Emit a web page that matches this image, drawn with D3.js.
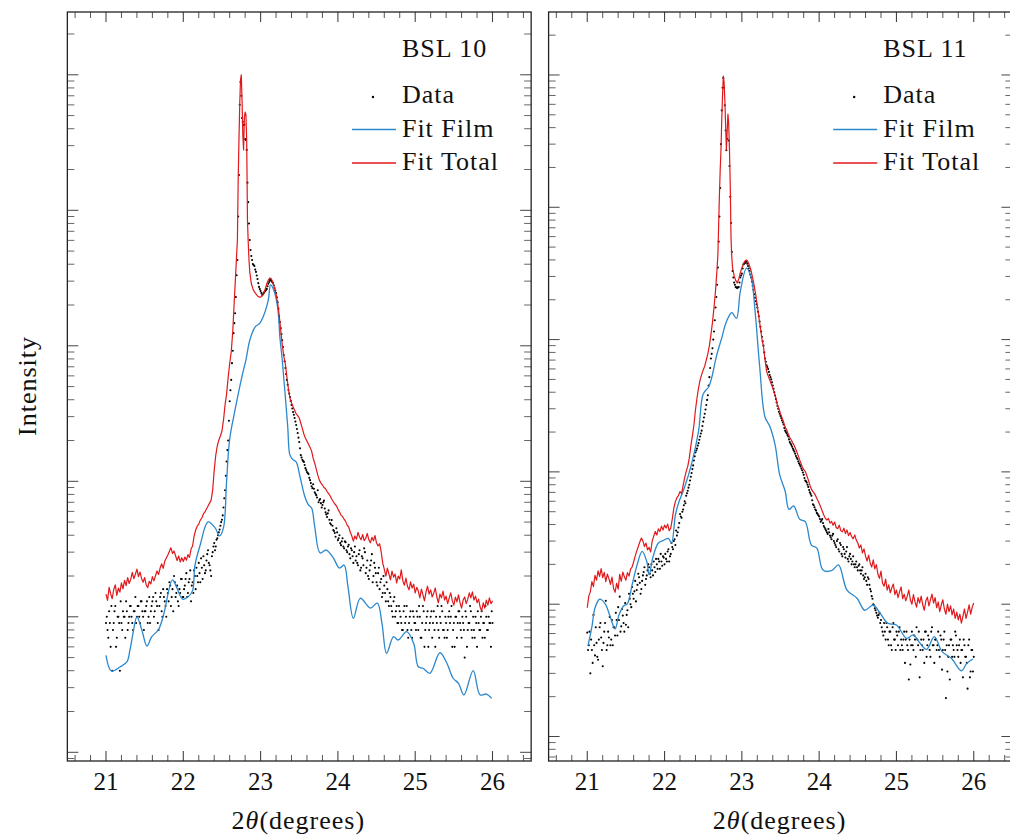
<!DOCTYPE html>
<html>
<head>
<meta charset="utf-8">
<script src="https://cdn.jsdelivr.net/npm/d3@7"></script>
<style>
  body { margin: 0; background: #fff; }
  text { font-family: "Liberation Serif", "DejaVu Serif", serif; fill: #111; }
</style>
</head>
<body>
<div id="chart"></div>
<script>
// measured scans are sampled every 0.01 deg from 21.00 to 26.00
var scanStart = 21.0, scanStep = 0.01;

// BSL 10 : measured intensity (one row = 0.2 deg)
var bsl10Data = [
  9, 10, 8, 7, 11, 9, 6, 12, 4, 8, 9, 11, 12, 6, 7, 10, 10, 9, 4, 13,
  9, 8, 11, 10, 10, 7, 13, 11, 8, 9, 10, 12, 12, 10, 9, 8, 11, 11, 14, 9,
  10, 12, 12, 10, 9, 13, 13, 11, 10, 8, 11, 11, 12, 13, 9, 10, 14, 9, 11, 12,
  13, 14, 10, 11, 15, 13, 12, 9, 8, 12, 14, 15, 11, 10, 16, 14, 13, 12, 10, 16,
  15, 13, 18, 17, 12, 14, 16, 11, 20, 18, 14, 15, 17, 13, 12, 16, 15, 19, 19, 14,
  14, 16, 17, 19, 21, 14, 15, 18, 19, 22, 13, 17, 18, 15, 22, 20, 16, 23, 20, 18,
  25, 21, 18, 27, 23, 19, 28, 24, 21, 22, 26, 29, 31, 25, 24, 22, 20, 28, 30, 33,
  35, 31, 33, 37, 38, 40, 42, 44, 47, 50, 52, 56, 64, 75, 86, 110, 140, 170, 200, 280,
  390, 470, 560, 745, 920, 1240, 1470, 1740, 2290, 3320, 4300, 9000, 18200, 60000, 88500, 70000, 48000, 45000, 42600, 43000,
  33600, 33000, 27900, 16000, 11500, 8000, 6040, 5100, 4600, 4300, 4020, 3950, 3880, 3650, 3510, 3300, 3110, 2900, 2720, 2620,
  2540, 2450, 2370, 2400, 2450, 2500, 2540, 2580, 2630, 2750, 2870, 2960, 3060, 3050, 3010, 2960, 2910, 2800, 2670, 2560,
  2450, 2280, 2100, 1880, 1660, 1500, 1350, 1220, 1100, 980, 855, 770, 685, 620, 560, 515, 472, 445, 419, 392,
  366, 345, 325, 310, 293, 276, 260, 243, 227, 210, 195, 175, 156, 150, 144, 141, 139, 132, 125, 121,
  117, 115, 113, 106, 102, 97, 92, 89, 95, 88, 83, 81, 79, 76, 86, 70, 72.6, 74, 69, 64,
  66.8, 70, 72, 63, 59, 57, 54.5, 58, 61, 52, 49, 48, 51.7, 47, 43.7, 43, 41.5, 39, 45, 42,
  36.8, 38, 40, 35, 33.8, 36, 38, 33, 32, 36, 35.5, 31, 30, 33, 34, 29, 27, 32, 31, 28,
  25, 30, 33, 26, 28, 25, 24, 29, 31, 22, 23, 28, 27, 24, 32, 30, 21, 23, 26, 20,
  19, 22, 24, 26, 29, 18, 20, 25, 23, 21, 18, 17, 21, 23, 16, 18, 19, 14, 15, 20,
  17, 15, 13, 18, 16, 13, 12, 15, 14, 12, 11, 10, 13, 14, 10, 11, 12, 9, 9, 12,
  11, 10, 9, 8, 8, 11, 12, 9, 10, 12, 8, 7, 9, 10, 11, 8, 7, 11, 10, 9,
  9, 8, 11, 10, 8, 12, 10, 7, 7, 9, 12, 11, 6, 8, 9, 10, 11, 6, 8, 9,
  10, 11, 7, 9, 11, 8, 6, 10, 9, 12, 8, 7, 10, 9, 12, 11, 8, 8, 7, 10,
  9, 7, 8, 10, 11, 9, 10, 12, 6, 8, 9, 6, 10, 10, 7, 9, 11, 11, 9, 8,
  7, 10, 9, 8, 5, 11, 10, 6, 8, 9, 9, 12, 11, 8, 7, 10, 8, 7, 10, 9,
  6, 11, 9, 8, 8, 10, 11, 7, 9, 9, 7, 12, 10, 8, 8, 10, 9, 9, 6, 11,
  9
];

// BSL 10 : fitted film contribution [2theta, intensity]
var bsl10Film = [
  [21.00, 5.2], [21.07, 3.98], [21.18, 4.26], [21.27, 4.64], [21.31, 5.69], [21.35, 7.59],
  [21.40, 10.0], [21.46, 8.13], [21.53, 6.09], [21.59, 7.10], [21.68, 8.06], [21.74, 10.1],
  [21.86, 18.7], [21.91, 16.7], [21.99, 13.5], [22.06, 14.0], [22.12, 15.6], [22.15, 23.9],
  [22.22, 34.2], [22.32, 50.1], [22.41, 45.5], [22.47, 39.5], [22.52, 45.5], [22.56, 100],
  [22.60, 205], [22.67, 338], [22.76, 598], [22.81, 785], [22.86, 1100], [22.93, 1380],
  [22.99, 1470], [23.06, 1800], [23.10, 2180], [23.13, 2820], [23.17, 2580], [23.22, 1930],
  [23.25, 1150], [23.28, 785], [23.35, 257], [23.38, 156], [23.42, 144], [23.46, 139],
  [23.51, 108], [23.57, 78], [23.62, 66.9], [23.66, 63.5], [23.70, 46.2], [23.77, 29.6],
  [23.85, 31.1], [23.94, 27.2], [24.02, 22.9], [24.08, 24.1], [24.13, 16.7], [24.20, 9.75],
  [24.29, 13.7], [24.42, 11.6], [24.51, 12.6], [24.57, 8.95], [24.63, 5.38], [24.72, 7.13],
  [24.78, 6.74], [24.89, 7.76], [24.98, 6.37], [25.04, 4.28], [25.10, 4.17], [25.19, 3.83],
  [25.32, 5.43], [25.41, 4.54], [25.49, 3.52], [25.56, 3.23], [25.63, 2.65], [25.75, 4.0],
  [25.84, 2.65], [25.92, 2.69], [25.99, 2.50]
];

// BSL 10 : total fit [2theta, intensity]
var bsl10Total = [
  [21.00, 14.7], [21.02, 13.2], [21.04, 16.5], [21.06, 14.8], [21.08, 13.6], [21.10, 15.9], [21.12, 17.2], [21.14, 14.4], [21.16, 16.3], [21.18, 15.2],
  [21.20, 17.8], [21.22, 16.1], [21.24, 18.6], [21.26, 17], [21.28, 19.5], [21.30, 17.6], [21.32, 18.9], [21.34, 21.3], [21.36, 19.1], [21.38, 20.6],
  [21.40, 22.5], [21.42, 19.8], [21.44, 21.4], [21.46, 19.2], [21.48, 18], [21.50, 19.5], [21.52, 17.2], [21.54, 16.4], [21.56, 18.3], [21.58, 17.5],
  [21.60, 19.8], [21.62, 18.4], [21.64, 20.1], [21.66, 21.8], [21.68, 20.5], [21.70, 22.9], [21.72, 24.6], [21.74, 22.8], [21.76, 25.7], [21.78, 27.2],
  [21.80, 28.6], [21.82, 30.5], [21.84, 32.3], [21.86, 29.4], [21.88, 30.6], [21.90, 28.2], [21.92, 26], [21.94, 28.1], [21.96, 25.4], [21.98, 27.3],
  [22.00, 25.6], [22.02, 27.6], [22.04, 26.2], [22.06, 28.8], [22.08, 27.4], [22.10, 31.6], [22.12, 33.3], [22.14, 39.5], [22.16, 43.7], [22.18, 46.6],
  [22.20, 48.3], [22.22, 51.7], [22.24, 53.6], [22.26, 57.4], [22.28, 59.5], [22.30, 62.5], [22.32, 65.7], [22.34, 69], [22.36, 72.6], [22.38, 86],
  [22.40, 121], [22.42, 156], [22.44, 183], [22.46, 202], [22.48, 216], [22.50, 235], [22.52, 283], [22.54, 366], [22.56, 440], [22.58, 580],
  [22.60, 740], [22.62, 900], [22.64, 1280], [22.66, 2180], [22.68, 3620], [22.70, 6040], [22.71, 16700], [22.72, 33000], [22.73, 60000], [22.74, 91800],
  [22.75, 100000], [22.76, 65200], [22.77, 36000], [22.78, 27900], [22.79, 48000], [22.80, 53000], [22.81, 51000], [22.82, 33000], [22.83, 8470], [22.84, 5800],
  [22.85, 4300], [22.86, 3500], [22.88, 2870], [22.90, 2640], [22.92, 2500], [22.94, 2420], [22.96, 2330], [22.98, 2290], [23.00, 2290], [23.02, 2330],
  [23.04, 2420], [23.06, 2630], [23.08, 2870], [23.10, 3060], [23.12, 3170], [23.14, 3120], [23.16, 2910], [23.18, 2670], [23.20, 2420], [23.22, 2080],
  [23.24, 1690], [23.26, 1310], [23.28, 1020], [23.30, 840], [23.32, 735], [23.34, 590], [23.36, 480], [23.38, 410], [23.40, 378], [23.42, 355],
  [23.44, 335], [23.46, 315], [23.48, 305], [23.50, 293], [23.52, 268], [23.54, 246], [23.56, 223], [23.58, 208], [23.60, 198], [23.62, 188],
  [23.64, 178], [23.66, 167], [23.68, 148], [23.70, 136], [23.72, 123], [23.74, 111], [23.76, 102], [23.78, 97], [23.80, 94], [23.82, 90],
  [23.84, 88], [23.86, 84], [23.88, 81], [23.90, 78], [23.92, 74], [23.94, 71], [23.96, 68], [23.98, 66], [24.00, 62.5], [24.02, 59.5],
  [24.04, 56.3], [24.06, 55], [24.08, 52.5], [24.10, 50.6], [24.12, 47.5], [24.14, 46], [24.16, 42.2], [24.18, 39.5], [24.20, 36.2], [24.22, 39.5],
  [24.24, 37.4], [24.26, 42], [24.28, 38.8], [24.30, 37], [24.32, 40.5], [24.34, 36.5], [24.36, 38], [24.38, 41.2], [24.40, 37], [24.42, 35.2],
  [24.44, 38.6], [24.46, 36.4], [24.48, 39.8], [24.50, 35], [24.52, 33.4], [24.54, 34.6], [24.56, 30.1], [24.58, 24.9], [24.60, 22.5], [24.62, 20.0],
  [24.64, 22.9], [24.66, 20.7], [24.68, 18.7], [24.70, 21.7], [24.72, 19.6], [24.74, 20.7], [24.76, 17.8], [24.78, 20.0], [24.80, 19.0], [24.82, 22.2],
  [24.84, 18.4], [24.86, 17.1], [24.88, 19.3], [24.90, 16.8], [24.92, 15.8], [24.94, 18.1], [24.96, 16.3], [24.98, 17.4], [25.00, 15.0], [25.02, 16.5],
  [25.04, 15.5], [25.06, 13.8], [25.08, 16.0], [25.10, 14.5], [25.12, 13.1], [25.14, 15.3], [25.16, 16.8], [25.18, 14.7], [25.20, 15.8], [25.22, 14.0],
  [25.24, 15.0], [25.26, 16.3], [25.28, 14.0], [25.30, 12.7], [25.32, 14.7], [25.34, 13.8], [25.36, 15.5], [25.38, 13.3], [25.40, 14.2], [25.42, 12.5],
  [25.44, 13.8], [25.46, 15.0], [25.48, 13.1], [25.50, 12.2], [25.52, 14.0], [25.54, 12.9], [25.56, 14.5], [25.58, 12.7], [25.60, 11.6], [25.62, 13.3],
  [25.64, 14.0], [25.66, 12.5], [25.68, 13.5], [25.70, 15.0], [25.72, 13.8], [25.74, 15.3], [25.76, 13.3], [25.78, 14.2], [25.80, 12.7], [25.82, 13.5],
  [25.84, 11.8], [25.86, 11.0], [25.88, 12.7], [25.90, 11.6], [25.92, 13.3], [25.94, 12.2], [25.96, 13.8], [25.98, 12.5], [26.00, 13.1]
];

// BSL 11 : measured intensity (one row = 0.2 deg)
var bsl11Data = [
  6.1, 4.5, 4.9, 6.2, 3.0, 5.4, 4.5, 3.6, 8.3, 4.9, 4.1, 6.7, 5.1, 4.0, 3.8, 5.4, 6.7, 7.2, 5.6, 4.5,
  3.4, 5.1, 6.2, 7.2, 10.6, 4.5, 4.9, 6.2, 5.6, 8.0, 4.9, 5.4, 7.6, 4.9, 6.7, 6.7, 5.8, 8.6, 7.6, 5.8,
  9.5, 7.6, 11.4, 6.2, 6.8, 9.2, 8.2, 7.2, 6.2, 10.2, 7.0, 8.3, 9.0, 6.7, 12, 11, 10, 9.5, 13.5, 12,
  11, 12.5, 15, 10.5, 12.8, 14, 17, 16, 14.5, 12, 13, 15, 16.5, 17.5, 19, 14, 15.5, 16.5, 18, 20,
  19, 17, 16, 20, 18, 16.5, 21, 19, 17.5, 22, 20, 18.5, 22, 21, 18.5, 24, 21, 19.5, 23, 22.5,
  20, 24, 22, 21, 25, 26, 21, 23, 24, 29, 27, 26, 30, 31, 28, 36, 33, 35, 38, 41,
  48, 46, 45, 50, 52, 56, 60, 58, 66, 69, 72, 76, 80, 86, 92, 98, 105, 112, 122, 131,
  140, 145, 150, 158, 165, 175, 185, 195, 205, 222, 240, 258, 275, 296, 320, 350, 380, 450, 520, 610,
  720, 780, 860, 1000, 1150, 1400, 1750, 2100, 2600, 3500, 5500, 8500, 14000, 30000, 54000, 80000, 95000, 80000, 59000, 38000,
  27000, 33000, 44000, 32000, 20500, 12000, 7600, 4600, 3300, 2950, 2700, 2600, 2500, 2480, 2450, 2480, 2500, 2700, 2950, 3050,
  3150, 3450, 3700, 3750, 3800, 3850, 3900, 3750, 3600, 3450, 3300, 3100, 2950, 2750, 2550, 2380, 2200, 2070, 1950, 1850,
  1750, 1620, 1500, 1370, 1250, 1150, 1050, 970, 900, 800, 720, 680, 640, 620, 600, 570, 540, 520, 500, 475,
  450, 425, 400, 378, 355, 335, 315, 300, 285, 275, 265, 255, 245, 236, 228, 215, 205, 200, 196, 190,
  185, 176, 168, 164, 160, 155, 150, 146, 142, 137, 132, 128, 125, 120, 116, 113, 110, 106, 103, 99,
  95, 90, 86, 85, 83, 80, 77, 73, 70, 68, 66, 61, 57, 56, 54, 52, 51, 49, 48, 47,
  46, 44, 42, 43, 44, 41, 39, 38, 37, 36, 35, 34, 37, 35, 33, 32, 31, 33, 34, 30,
  29, 28, 27, 30, 31, 26, 25, 29, 28, 24, 23, 27, 26, 24, 22.5, 25, 27, 22, 21, 23,
  24, 22, 20, 21, 23, 20, 19, 20, 21, 19, 18, 19.5, 20, 18, 17, 18, 19, 16.5, 15.5, 16,
  17, 15, 14, 16, 15.5, 14, 13, 12.5, 11.5, 11, 10, 9.8, 9.3, 9.0, 8.6, 8.2, 7.9, 8.3, 8.6, 7.2,
  7.6, 6.7, 6.2, 5.8, 7.2, 6.2, 5.4, 7.2, 6.7, 5.4, 4.9, 6.2, 6.2, 4.9, 4.5, 6.7, 7.2, 5.4, 5.4, 4.5,
  6.2, 5.8, 4.9, 6.2, 6.7, 4.5, 5.4, 4.9, 4.5, 5.4, 6.2, 3.6, 5.4, 6.2, 4.9, 4.5, 2.7, 5.4, 3.5, 4.9,
  6.2, 4.9, 4.5, 5.8, 5.4, 4.0, 6.7, 5.4, 4.9, 6.2, 2.8, 4.5, 5.4, 4.9, 4.5, 5.4, 3.6, 6.2, 6.2, 4.0,
  4.9, 5.8, 5.4, 4.5, 4.0, 6.2, 6.7, 4.9, 4.9, 3.6, 5.4, 5.4, 4.5, 4.9, 6.2, 4.5, 4.0, 5.8, 5.4, 3.2,
  4.5, 5.4, 6.2, 4.5, 1.95, 4.9, 3.1, 4.0, 4.9, 2.7, 5.4, 5.4, 4.0, 4.9, 4.5, 4.0, 6.2, 5.8, 4.9, 4.5,
  4.0, 4.9, 5.4, 3.6, 4.5, 4.5, 2.8, 5.4, 4.9, 4.0, 4.0, 3.6, 2.3, 4.9, 5.4, 2.8, 3.1, 4.5, 4.5, 3.1,
  4.0
];

// BSL 11 : fitted film contribution
var bsl11Film = [
  [21.01, 4.87], [21.06, 6.73], [21.10, 9.36], [21.16, 10.9], [21.23, 10.1], [21.29, 8.28],
  [21.36, 6.5], [21.41, 8.28], [21.47, 9.69], [21.52, 10.1], [21.58, 14.0], [21.64, 19.3],
  [21.71, 25.1], [21.77, 21], [21.80, 16.7], [21.85, 22.7], [21.92, 29], [21.98, 30.2],
  [22.05, 31.4], [22.09, 29], [22.14, 47.2], [22.18, 57.8], [22.26, 76.9], [22.35, 115],
  [22.44, 203], [22.50, 388], [22.57, 438], [22.61, 515], [22.67, 743], [22.74, 1030],
  [22.80, 1365], [22.87, 1600], [22.93, 1445], [22.98, 2310], [23.06, 3470], [23.12, 2950],
  [23.17, 1670], [23.23, 631], [23.30, 259], [23.36, 222], [23.43, 160], [23.49, 94.8],
  [23.56, 71.7], [23.61, 52.1], [23.67, 55.3], [23.75, 43.8], [23.82, 42.1], [23.90, 28],
  [23.97, 26.5], [24.05, 18.1], [24.16, 17.9], [24.25, 19.8], [24.36, 12.8], [24.49, 11.1],
  [24.59, 9.0], [24.70, 9.86], [24.79, 8.53], [24.89, 7.17], [25.00, 6.96], [25.13, 5.52],
  [25.22, 5.85], [25.29, 5.21], [25.39, 4.56], [25.49, 5.68], [25.59, 4.38], [25.71, 3.9],
  [25.84, 3.14], [25.91, 3.57], [25.99, 3.85]
];

// BSL 11 : total fit
var bsl11Total = [
  [21.00, 9.4], [21.02, 11.5], [21.04, 12.4], [21.06, 14.8], [21.08, 13.6], [21.10, 16.5], [21.12, 15.2], [21.14, 17.9], [21.16, 16.2], [21.18, 18.6],
  [21.20, 15.9], [21.22, 17.4], [21.24, 14.8], [21.26, 16.9], [21.28, 15.6], [21.30, 14.1], [21.32, 16], [21.34, 13.2], [21.36, 12.3], [21.38, 14.4],
  [21.40, 13], [21.42, 16.8], [21.44, 14.9], [21.46, 17.5], [21.48, 16.1], [21.50, 15.2], [21.52, 17.3], [21.54, 16.3], [21.56, 18.4], [21.58, 19.1],
  [21.60, 20.9], [21.62, 23.1], [21.64, 25.2], [21.66, 27.3], [21.68, 29.5], [21.70, 31.6], [21.72, 30], [21.74, 27.3], [21.76, 29], [21.78, 25.7],
  [21.80, 26.9], [21.82, 24.8], [21.84, 30], [21.86, 32.7], [21.88, 35.4], [21.90, 33.3], [21.92, 37.1], [21.94, 35.4], [21.96, 38.9], [21.98, 36.4],
  [22.00, 39.6], [22.02, 37.6], [22.04, 40.3], [22.06, 35.9], [22.08, 37.6], [22.10, 44], [22.12, 53.3], [22.14, 59.6], [22.16, 63.8], [22.18, 66.2],
  [22.20, 71], [22.22, 68.5], [22.24, 78.6], [22.26, 90], [22.28, 101], [22.30, 110], [22.32, 127], [22.34, 157], [22.36, 187], [22.38, 226],
  [22.40, 295], [22.42, 362], [22.44, 432], [22.46, 496], [22.48, 543], [22.50, 590], [22.52, 630], [22.54, 703], [22.56, 780], [22.58, 900],
  [22.60, 1090], [22.62, 1350], [22.64, 1750], [22.66, 2370], [22.68, 3480], [22.69, 4360], [22.70, 7380], [22.71, 12500], [22.72, 19200], [22.73, 27100],
  [22.74, 45700], [22.75, 69300], [22.76, 98000], [22.77, 88500], [22.78, 64700], [22.79, 41500], [22.80, 27100], [22.81, 37200], [22.82, 50600], [22.83, 42600],
  [22.84, 27100], [22.85, 14700], [22.86, 5840], [22.87, 4180], [22.88, 3480], [22.90, 3040], [22.92, 2800], [22.94, 2680], [22.96, 2870], [22.98, 3190],
  [23.00, 3480], [23.02, 3720], [23.04, 3920], [23.06, 4000], [23.08, 3860], [23.10, 3600], [23.12, 3300], [23.14, 2920], [23.16, 2550], [23.18, 2170],
  [23.20, 1800], [23.22, 1480], [23.24, 1220], [23.26, 1010], [23.28, 880], [23.30, 703], [23.32, 578], [23.34, 532], [23.36, 496], [23.38, 462],
  [23.40, 432], [23.42, 396], [23.44, 362], [23.46, 320], [23.48, 300], [23.50, 275], [23.52, 256], [23.54, 238], [23.56, 218], [23.58, 208],
  [23.60, 193], [23.62, 182], [23.64, 174], [23.66, 165], [23.68, 157], [23.70, 147], [23.72, 137], [23.74, 127], [23.76, 118], [23.78, 110],
  [23.80, 104], [23.82, 101], [23.84, 94], [23.86, 87], [23.88, 79.4], [23.90, 74], [23.92, 71], [23.94, 68.5], [23.96, 65], [23.98, 61.3],
  [24.00, 58], [24.02, 54.2], [24.04, 50.6], [24.06, 47.2], [24.08, 44.6], [24.10, 43.3], [24.12, 44.5], [24.14, 41], [24.16, 42.2], [24.18, 39.5],
  [24.20, 41.8], [24.22, 38], [24.24, 37.2], [24.26, 39.6], [24.28, 36], [24.30, 35.2], [24.32, 37.5], [24.34, 34.2], [24.36, 36.4], [24.38, 33],
  [24.40, 34.8], [24.42, 32.5], [24.44, 31.2], [24.46, 33.4], [24.48, 30.5], [24.50, 29.0], [24.52, 26.6], [24.54, 28.0], [24.56, 24.4], [24.58, 26.2],
  [24.60, 23.1], [24.62, 21.2], [24.64, 23.5], [24.66, 20.5], [24.68, 19.1], [24.70, 21.6], [24.72, 18.5], [24.74, 19.9], [24.76, 16.9], [24.78, 15.7],
  [24.80, 17.8], [24.82, 14.4], [24.84, 13.7], [24.86, 15.5], [24.88, 12.8], [24.90, 14.0], [24.92, 12.2], [24.94, 13.3], [24.96, 14.2], [24.98, 11.8],
  [25.00, 12.8], [25.02, 11.2], [25.04, 12.4], [25.06, 13.5], [25.08, 11.0], [25.10, 11.9], [25.12, 10.6], [25.14, 11.5], [25.16, 12.8], [25.18, 10.8],
  [25.20, 10.0], [25.22, 11.8], [25.24, 10.4], [25.26, 9.5], [25.28, 11.2], [25.30, 10.2], [25.32, 11.5], [25.34, 9.9], [25.36, 9.0], [25.38, 10.6],
  [25.40, 11.3], [25.42, 9.7], [25.44, 10.8], [25.46, 11.9], [25.48, 10.2], [25.50, 11.2], [25.52, 9.4], [25.54, 10.4], [25.56, 8.8], [25.58, 9.9],
  [25.60, 10.8], [25.62, 9.2], [25.64, 8.4], [25.66, 10.0], [25.68, 8.8], [25.70, 9.7], [25.72, 8.3], [25.74, 9.2], [25.76, 7.8], [25.78, 8.7],
  [25.80, 7.6], [25.82, 8.4], [25.84, 7.2], [25.86, 8.1], [25.88, 9.2], [25.90, 7.8], [25.92, 8.7], [25.94, 9.9], [25.96, 8.4], [25.98, 9.5], [26.00, 10.2]
];

var xTickLabels = [21, 22, 23, 24, 25, 26];
var legendLabels = ["Data", "Fit Film", "Fit Total"];
var panelTitles = ["BSL 10", "BSL 11"];

var filmColor = "#2b88cc", totalColor = "#e0191c";

var svg = d3.select("#chart")
  .append("svg")
  .attr("width", 1010)
  .attr("height", 839);

function drawPanel(p) {
  var top = 12, bottom = 761;

  var x = d3.scaleLinear().domain([20.5, 26.5]).range([p.left, p.left + 463.8]);
  var y = d3.scaleLog().domain(p.yDomain).range([bottom, top]);

  var g = svg.append("g");

  // ticks on all four sides, pointing inwards
  var minorX = d3.range(103, 133).map(function(i) { return i / 5; })
    .filter(function(v) { return v > 20.5 && v < 26.5 && Math.abs(v - Math.round(v)) > 1e-6; });
  minorX.forEach(function(v) {
    g.append("line").attr("x1", x(v)).attr("x2", x(v)).attr("y1", bottom).attr("y2", bottom - 6)
      .attr("stroke", "#555").attr("stroke-width", 1);
    g.append("line").attr("x1", x(v)).attr("x2", x(v)).attr("y1", top).attr("y2", top + 6)
      .attr("stroke", "#555").attr("stroke-width", 1);
  });
  xTickLabels.forEach(function(v) {
    g.append("line").attr("x1", x(v)).attr("x2", x(v)).attr("y1", bottom).attr("y2", bottom - 10)
      .attr("stroke", "#444").attr("stroke-width", 1.1);
    g.append("line").attr("x1", x(v)).attr("x2", x(v)).attr("y1", top).attr("y2", top + 10)
      .attr("stroke", "#444").attr("stroke-width", 1.1);
    g.append("text").attr("x", x(v)).attr("y", 790).attr("text-anchor", "middle")
      .style("font-size", "25px").text(v);
  });

  // log ticks, no labels
  var dom = y.domain();
  var x0 = x.range()[0], x1 = x.range()[1];
  for (var k = -1; k <= 6; k++) {
    for (var m = 1; m <= 9; m++) {
      var v = m * Math.pow(10, k);
      if (v < dom[0] || v > dom[1]) continue;
      var len = (m == 1) ? 11 : 7;
      g.append("line").attr("x1", x0).attr("x2", x0 + len).attr("y1", y(v)).attr("y2", y(v))
        .attr("stroke", m == 1 ? "#444" : "#666").attr("stroke-width", 1);
      g.append("line").attr("x1", x1).attr("x2", x1 - len).attr("y1", y(v)).attr("y2", y(v))
        .attr("stroke", m == 1 ? "#444" : "#666").attr("stroke-width", 1);
    }
  }

  // frame
  g.append("rect")
    .attr("x", x0).attr("y", top)
    .attr("width", x1 - x0).attr("height", bottom - top)
    .attr("fill", "none").attr("stroke", "#222").attr("stroke-width", 1.3);

  var lineFilm = d3.line().curve(d3.curveCatmullRom.alpha(0.5))
    .x(function(d) { return x(d[0]); })
    .y(function(d) { return y(d[1]); });
  var lineTotal = d3.line()
    .x(function(d) { return x(d[0]); })
    .y(function(d) { return y(d[1]); });

  // data points
  g.selectAll(".dot")
    .data(p.data)
    .enter().append("circle")
      .attr("cx", function(d, i) { return x(scanStart + i * scanStep); })
      .attr("cy", function(d) { return y(d); })
      .attr("r", 1.05)
      .attr("fill", "#000");

  g.append("path").datum(p.film)
    .attr("fill", "none").attr("stroke", filmColor).attr("stroke-width", 1.3)
    .attr("d", lineFilm);
  g.append("path").datum(p.total)
    .attr("fill", "none").attr("stroke", totalColor).attr("stroke-width", 1.2)
    .attr("stroke-linejoin", "round")
    .attr("d", lineTotal);

  // handmade legend
  var lx = p.left;
  var bigText = function(sel) { return sel.style("font-size", "26px").style("letter-spacing", "1px"); };
  bigText(g.append("text").attr("x", lx + 334.6).attr("y", 57).text(p.title));
  g.append("circle").attr("cx", lx + 305.6).attr("cy", 97).attr("r", 1.2).attr("fill", "#000");
  g.append("line").attr("x1", lx + 284.6).attr("x2", lx + 328.6).attr("y1", 129.5).attr("y2", 129.5)
    .attr("stroke", filmColor).attr("stroke-width", 1.3);
  g.append("line").attr("x1", lx + 284.6).attr("x2", lx + 328.6).attr("y1", 163).attr("y2", 163)
    .attr("stroke", totalColor).attr("stroke-width", 1.3);
  [103, 136.5, 170].forEach(function(yy, i) {
    bigText(g.append("text").attr("x", lx + 334.6).attr("y", yy).text(legendLabels[i]));
  });

  // x axis title
  var xt = bigText(g.append("text").attr("x", p.left + 231).attr("y", 829)
    .attr("text-anchor", "middle"));
  xt.append("tspan").text("2");
  xt.append("tspan").style("font-style", "italic").text("θ");
  xt.append("tspan").text("(degrees)");

  if (p.yLabel) {
    bigText(g.append("text")
      .attr("transform", "translate(36,386) rotate(-90)")
      .attr("text-anchor", "middle"))
      .text("Intensity");
  }
}

drawPanel({
  left: 67.35,
  yDomain: [Math.pow(10, -0.0642), Math.pow(10, 5.4635)],
  title: panelTitles[0],
  data: bsl10Data, film: bsl10Film, total: bsl10Total,
  yLabel: true
});
drawPanel({
  left: 548.6,
  yDomain: [Math.pow(10, -0.1852), Math.pow(10, 5.476)],
  title: panelTitles[1],
  data: bsl11Data, film: bsl11Film, total: bsl11Total,
  yLabel: false
});
</script>
</body>
</html>
